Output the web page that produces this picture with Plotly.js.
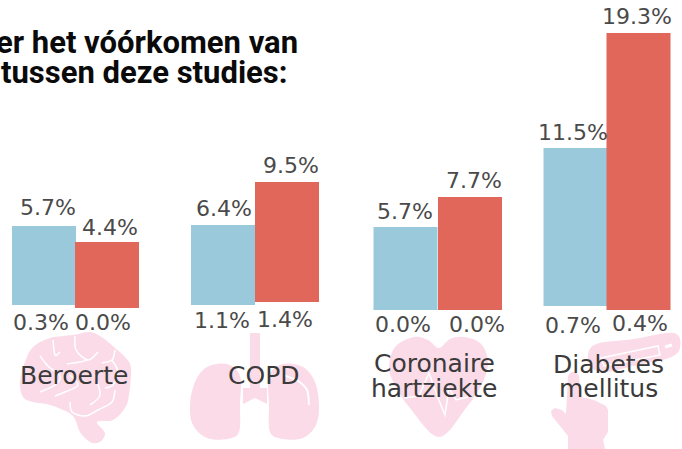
<!DOCTYPE html>
<html><head><meta charset="utf-8">
<script src="https://cdn.plot.ly/plotly-3.0.1.min.js"></script>
<style>html,body{margin:0;padding:0;background:#fff;overflow:hidden}</style></head>
<body><div id="c" style="width:682px;height:449px"></div>
<script>
const categories = ["Beroerte", "COPD", "Coronaire<br>hartziekte", "Diabetes<br>mellitus"];
const blueLabelsTop = ["5.7%", "6.4%", "5.7%", "11.5%"];
const redLabelsTop = ["4.4%", "9.5%", "7.7%", "19.3%"];
const blueLabelsBottom = ["0.3%", "1.1%", "0.0%", "0.7%"];
const redLabelsBottom = ["0.0%", "1.4%", "0.0%", "0.4%"];
// bar extents as drawn (percent scale)
const blueTop = [5.85, 5.92, 5.78, 11.29];
const blueBase = [0.35, 0.35, 0.0, 0.28];
const redTop = [4.74, 8.92, 7.87, 19.3];
const redBase = [0.14, 0.56, 0.0, 0.0];

// layout (pixels)
const W = 682, H = 449;
const blueX = [44, 223, 405.5, 575.5], redX = [107, 287, 470, 638.5];
const barW = 64;
const px = x => x / W, py = y => 1 - y / H;
const FONT = "'DejaVu Sans', sans-serif", INK = "#4a4a4a", PINK = "#fbdbe8";

function smooth(pts, close) {
  const n = pts.length, P = i => close ? pts[(i + n) % n] : pts[Math.max(0, Math.min(n - 1, i))];
  const f = p => px(p[0]).toFixed(5) + "," + py(p[1]).toFixed(5);
  let d = "M" + f(pts[0]);
  for (let i = 0; i < (close ? n : n - 1); i++) {
    const a = P(i - 1), b = P(i), c = P(i + 1), e = P(i + 2);
    d += " C" + f([b[0] + (c[0] - a[0]) / 6, b[1] + (c[1] - a[1]) / 6]) + " " +
      f([c[0] - (e[0] - b[0]) / 6, c[1] - (e[1] - b[1]) / 6]) + " " + f(c);
  }
  return d + (close ? " Z" : "");
}
function poly(pts, close) {
  const f = p => px(p[0]).toFixed(5) + "," + py(p[1]).toFixed(5);
  return "M" + pts.map(f).join(" L") + (close ? " Z" : "");
}
const fill = d => ({type:"path", xref:"paper", yref:"paper", layer:"below", path:d, fillcolor:PINK, line:{width:0}});
const white = (d, w) => ({type:"path", xref:"paper", yref:"paper", layer:"below", path:d, fillcolor:"rgba(0,0,0,0)", line:{color:"#fff", width:w || 1.5}});

const shapes = [
  // brain
  fill(smooth([[20,382],[25,362],[33,347],[50,338],[73,335],[90,332],[103,338],[115,348],[125,357],[131,368],[129,395],[125,408],[113,420],[97,422],[105,433],[100,442],[90,442],[80,432],[72,415],[50,405],[33,402],[23,397]], true)),
  white(smooth([[75,336],[76,350],[88,360],[98,352]])),
  white(smooth([[88,360],[80,362],[67,364]])),
  white(smooth([[53,340],[55,355],[60,352]])),
  white(smooth([[40,356],[48,366],[60,376],[55,385],[40,392]])),
  white(smooth([[115,350],[112,360],[102,363]])),
  white(smooth([[112,360],[118,372],[113,385],[105,388]])),
  white(smooth([[70,402],[72,412],[85,416],[98,410],[112,402],[115,390]])),
  white(smooth([[95,375],[100,395],[90,405]])),
  white(smooth([[70,375],[78,385],[65,392],[55,396]])),
  // lungs
  fill(poly([[250,333],[260,333],[260,388],[267,388],[267,404],[255,398],[243,404],[243,388],[250,388]], true)),
  fill(smooth([[227,364],[207,367],[195,382],[190,405],[193,425],[207,438],[227,439],[239,432],[240,405],[240,376]], true)),
  fill(smooth([[283,364],[303,367],[315,382],[319,405],[316,425],[303,438],[283,439],[270,432],[269,405],[269,376]], true)),
  white(smooth([[283,375],[298,381],[307,390],[309,405]]), 2),
  // heart
  fill(smooth([[439,348],[450,339],[464,337],[480,343],[488,360],[483,382],[466,408],[439,437],[410,408],[395,385],[389,368],[395,347],[414,337],[428,340]], true)),
  white(poly([[404,398],[419,396],[429,373],[438,398],[445,415],[449,388],[456,400],[468,397]])),
  // syringe
  fill(smooth([[594,345],[634,339],[674,333],[680,348],[669,358],[637,365],[604,372],[589,364]], true)),
  white(poly([[601,358],[658,346],[660,355],[604,366]], true)),
  white(poly([[665,347],[672,345]]), 3),
  // hand
  fill(poly([[568,376],[571,372],[576,372],[579,376],[581,397],[594,400],[606,406],[608,410],[608,432],[603,440],[605,449],[568,449],[568,436],[552,416],[551,411],[555,408],[562,410],[566,414]], true))
];

const ann = [];
function txt(s, x, y, size, color, family, weight, anchor) {
  ann.push({text:s, x:px(x), y:py(y), xref:"paper", yref:"paper", xanchor:anchor||"center", yanchor:"middle", showarrow:false,
    font:{family:family||FONT, size:size||22, color:color||INK, weight:weight||400}});
}
txt("er het vóórkomen van", -6, 42, 31, "#0a0a0a", "Roboto", 700, "left");
txt("tussen deze studies:", -1, 72, 31, "#0a0a0a", "Roboto", 700, "left");

const topBX = [48, 224, 405, 573], topBY = [207, 208, 211, 132];
const topRX = [110, 291, 474, 637], topRY = [227, 165, 180, 16];
const botBX = [41, 222, 403, 573], botBY = [322, 320, 324, 325];
const botRX = [103, 285, 477, 640], botRY = [322, 319, 324, 323];
const catX = [74, 263, 434, 608], catY = [[375],[375],[363,388],[364,388]];
categories.forEach((c, i) => {
  txt(blueLabelsTop[i], topBX[i], topBY[i]);
  txt(redLabelsTop[i], topRX[i], topRY[i]);
  txt(blueLabelsBottom[i], botBX[i], botBY[i]);
  txt(redLabelsBottom[i], botRX[i], botRY[i]);
  c.split("<br>").forEach((line, j) => txt(line, catX[i], catY[i][j], 25, "#3a3a3a"));
});

const traces = [
  {type:"bar", x:blueX, y:blueTop.map((v,i)=>v-blueBase[i]), base:blueBase, width:barW, marker:{color:"#9bc9dc"}, hoverinfo:"skip"},
  {type:"bar", x:redX, y:redTop.map((v,i)=>v-redBase[i]), base:redBase, width:barW, marker:{color:"#e06759"}, hoverinfo:"skip"}
];
Plotly.newPlot("c", traces, {
  width:W, height:H, margin:{l:0,r:0,t:0,b:0}, paper_bgcolor:"#fff", plot_bgcolor:"rgba(0,0,0,0)",
  barmode:"overlay", showlegend:false,
  xaxis:{range:[0,W], visible:false, fixedrange:true},
  yaxis:{range:[-9.68,21.6], visible:false, fixedrange:true},
  shapes:shapes, annotations:ann
}, {displayModeBar:false, staticPlot:true});
</script></body></html>
